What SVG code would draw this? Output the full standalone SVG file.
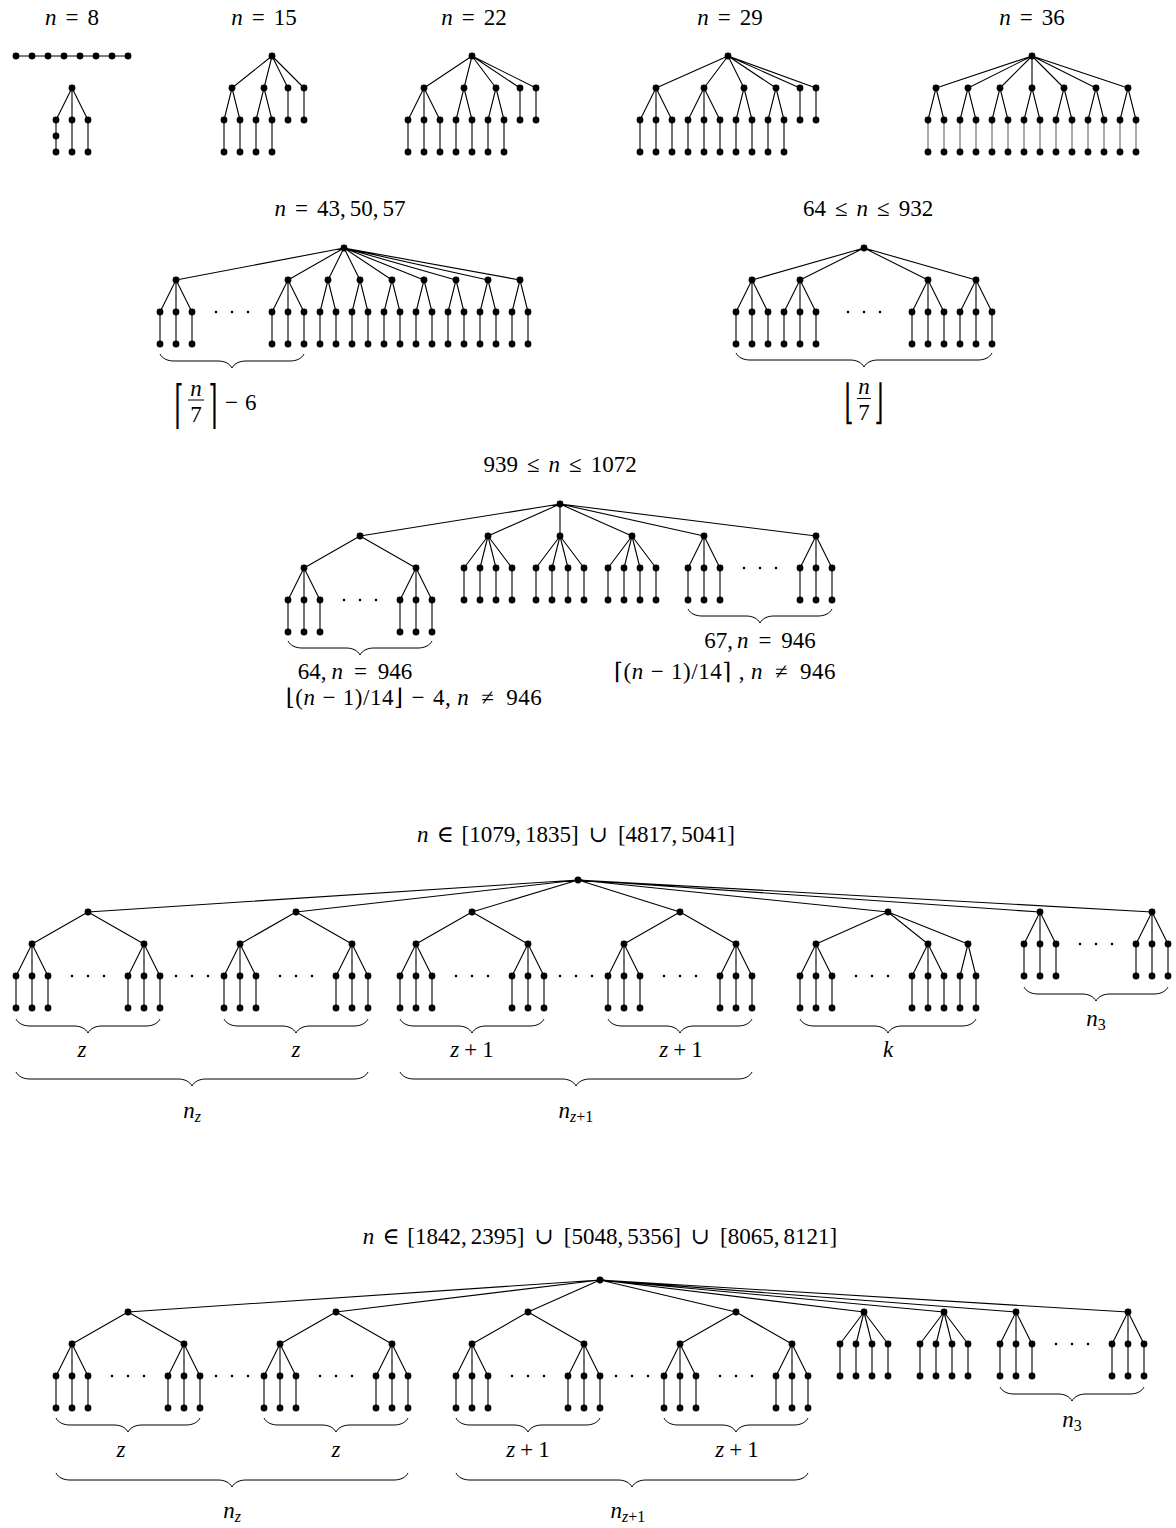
<svg xmlns="http://www.w3.org/2000/svg" width="1176" height="1528" viewBox="0 0 1176 1528">
<style>
text{font-family:"Liberation Serif","DejaVu Serif",serif;font-size:23px;fill:#000}
.m{text-anchor:middle}
.i{font-style:italic}
.s{font-size:16px}
.dj{font-family:"DejaVu Serif",serif}
.ls{letter-spacing:0.5px}
.e{fill:none;stroke:#000;stroke-width:1.1}
.g{fill:none;stroke:#666;stroke-width:1.1}
.b{fill:none;stroke:#000;stroke-width:1}
.n circle{fill:#000}
</style>
<rect width="1176" height="1528" fill="#fff"/>

<g id="connectors">
<path class="e" d="M16,56H128 M72,88L56,120 M72,88V152 M72,88L88,120 M56,120V152 M88,120V152"/>
<path class="e" d="M272,56L232,88 M272,56L264,88 M272,56L288,88 M272,56L304,88 M232,88L224,120 M232,88L240,120 M264,88L256,120 M264,88L272,120 M288,88V120 M304,88V120 M224,120V152 M240,120V152 M256,120V152 M272,120V152"/>
<path class="e" d="M472,56L424,88 M472,56L464,88 M472,56L496,88 M472,56L520,88 M472,56L536,88 M424,88L408,120 M424,88L424,120 M424,88L440,120 M464,88L456,120 M464,88L472,120 M496,88L488,120 M496,88L504,120 M520,88V120 M536,88V120 M408,120V152 M424,120V152 M440,120V152 M456,120V152 M472,120V152 M488,120V152 M504,120V152"/>
<path class="e" d="M728,56L656,88 M728,56L704,88 M728,56L744,88 M728,56L776,88 M728,56L800,88 M728,56L816,88 M656,88L640,120 M656,88L656,120 M656,88L672,120 M704,88L688,120 M704,88L704,120 M704,88L720,120 M744,88L736,120 M744,88L752,120 M776,88L768,120 M776,88L784,120 M800,88V120 M816,88V120 M640,120V152 M656,120V152 M672,120V152 M688,120V152 M704,120V152 M720,120V152 M736,120V152 M752,120V152 M768,120V152 M784,120V152"/>
<path class="e" d="M1032,56L936,88 M1032,56L968,88 M1032,56L1000,88 M1032,56V88 M1032,56L1064,88 M1032,56L1096,88 M1032,56L1128,88 M936,88L928,120 M936,88L944,120 M968,88L960,120 M968,88L976,120 M1000,88L992,120 M1000,88L1008,120 M1032,88L1024,120 M1032,88L1040,120 M1064,88L1056,120 M1064,88L1072,120 M1096,88L1088,120 M1096,88L1104,120 M1128,88L1120,120 M1128,88L1136,120"/>
<path class="g" d="M928,120V152 M944,120V152 M960,120V152 M976,120V152 M992,120V152 M1008,120V152 M1024,120V152 M1040,120V152 M1056,120V152 M1072,120V152 M1088,120V152 M1104,120V152 M1120,120V152 M1136,120V152"/>

<path class="e" d="M344,248L176,280 M344,248L288,280 M344,248L328,280 M344,248L360,280 M344,248L392,280 M344,248L424,280 M344,248L456,280 M344,248L488,280 M344,248L520,280 M176,280L160,312 M176,280V312 M176,280L192,312 M288,280L272,312 M288,280V312 M288,280L304,312 M328,280L320,312 M328,280L336,312 M360,280L352,312 M360,280L368,312 M392,280L384,312 M392,280L400,312 M424,280L416,312 M424,280L432,312 M456,280L448,312 M456,280L464,312 M488,280L480,312 M488,280L496,312 M520,280L512,312 M520,280L528,312 M160,312V344 M176,312V344 M192,312V344 M272,312V344 M288,312V344 M304,312V344 M320,312V344 M336,312V344 M352,312V344 M368,312V344 M384,312V344 M400,312V344 M416,312V344 M432,312V344 M448,312V344 M464,312V344 M480,312V344 M496,312V344 M512,312V344 M528,312V344"/>
<path class="e" d="M864,248L752,280 M864,248L800,280 M864,248L928,280 M864,248L976,280 M752,280L736,312 M752,280V312 M752,280L768,312 M800,280L784,312 M800,280V312 M800,280L816,312 M928,280L912,312 M928,280V312 M928,280L944,312 M976,280L960,312 M976,280V312 M976,280L992,312 M736,312V344 M752,312V344 M768,312V344 M784,312V344 M800,312V344 M816,312V344 M912,312V344 M928,312V344 M944,312V344 M960,312V344 M976,312V344 M992,312V344"/>

<path class="e" d="M560,504L360,536 M560,504L488,536 M560,504V536 M560,504L632,536 M560,504L704,536 M560,504L816,536 M360,536L304,568 M360,536L416,568 M304,568L288,600 M304,568V600 M304,568L320,600 M416,568L400,600 M416,568V600 M416,568L432,600 M288,600V632 M304,600V632 M320,600V632 M400,600V632 M416,600V632 M432,600V632 M488,536L464,568 M488,536L480,568 M488,536L496,568 M488,536L512,568 M560,536L536,568 M560,536L552,568 M560,536L568,568 M560,536L584,568 M632,536L608,568 M632,536L624,568 M632,536L640,568 M632,536L656,568 M704,536L688,568 M704,536V568 M704,536L720,568 M816,536L800,568 M816,536V568 M816,536L832,568 M464,568V600 M480,568V600 M496,568V600 M512,568V600 M536,568V600 M552,568V600 M568,568V600 M584,568V600 M608,568V600 M624,568V600 M640,568V600 M656,568V600 M688,568V600 M704,568V600 M720,568V600 M800,568V600 M816,568V600 M832,568V600"/>

<path class="e" d="M578,880L88,912 M578,880L296,912 M578,880L472,912 M578,880L680,912 M578,880L888,912 M578,880L1040,912 M578,880L1152,912 M88,912L32,944 M88,912L144,944 M296,912L240,944 M296,912L352,944 M472,912L416,944 M472,912L528,944 M680,912L624,944 M680,912L736,944 M888,912L816,944 M888,912L928,944 M888,912L968,944 M1040,912L1024,944 M1040,912V944 M1040,912L1056,944 M1152,912L1136,944 M1152,912V944 M1152,912L1168,944
M32,944L16,976 M32,944V976 M32,944L48,976 M144,944L128,976 M144,944V976 M144,944L160,976 M240,944L224,976 M240,944V976 M240,944L256,976 M352,944L336,976 M352,944V976 M352,944L368,976 M416,944L400,976 M416,944V976 M416,944L432,976 M528,944L512,976 M528,944V976 M528,944L544,976 M624,944L608,976 M624,944V976 M624,944L640,976 M736,944L720,976 M736,944V976 M736,944L752,976 M816,944L800,976 M816,944V976 M816,944L832,976 M928,944L912,976 M928,944V976 M928,944L944,976 M968,944L960,976 M968,944L976,976 M1024,944V976 M1040,944V976 M1056,944V976 M1136,944V976 M1152,944V976 M1168,944V976
M16,976V1008 M32,976V1008 M48,976V1008 M128,976V1008 M144,976V1008 M160,976V1008 M224,976V1008 M240,976V1008 M256,976V1008 M336,976V1008 M352,976V1008 M368,976V1008 M400,976V1008 M416,976V1008 M432,976V1008 M512,976V1008 M528,976V1008 M544,976V1008 M608,976V1008 M624,976V1008 M640,976V1008 M720,976V1008 M736,976V1008 M752,976V1008 M800,976V1008 M816,976V1008 M832,976V1008 M912,976V1008 M928,976V1008 M944,976V1008 M960,976V1008 M976,976V1008"/>

<path class="e" d="M600,1280L128,1312 M600,1280L336,1312 M600,1280L528,1312 M600,1280L736,1312 M600,1280L864,1312 M600,1280L944,1312 M600,1280L1016,1312 M600,1280L1128,1312 M128,1312L72,1344 M128,1312L184,1344 M336,1312L280,1344 M336,1312L392,1344 M528,1312L472,1344 M528,1312L584,1344 M736,1312L680,1344 M736,1312L792,1344 M864,1312L840,1344 M864,1312L856,1344 M864,1312L872,1344 M864,1312L888,1344 M944,1312L920,1344 M944,1312L936,1344 M944,1312L952,1344 M944,1312L968,1344 M1016,1312L1000,1344 M1016,1312V1344 M1016,1312L1032,1344 M1128,1312L1112,1344 M1128,1312V1344 M1128,1312L1144,1344
M72,1344L56,1376 M72,1344V1376 M72,1344L88,1376 M184,1344L168,1376 M184,1344V1376 M184,1344L200,1376 M280,1344L264,1376 M280,1344V1376 M280,1344L296,1376 M392,1344L376,1376 M392,1344V1376 M392,1344L408,1376 M472,1344L456,1376 M472,1344V1376 M472,1344L488,1376 M584,1344L568,1376 M584,1344V1376 M584,1344L600,1376 M680,1344L664,1376 M680,1344V1376 M680,1344L696,1376 M792,1344L776,1376 M792,1344V1376 M792,1344L808,1376 M840,1344V1376 M856,1344V1376 M872,1344V1376 M888,1344V1376 M920,1344V1376 M936,1344V1376 M952,1344V1376 M968,1344V1376 M1000,1344V1376 M1016,1344V1376 M1032,1344V1376 M1112,1344V1376 M1128,1344V1376 M1144,1344V1376
M56,1376V1408 M72,1376V1408 M88,1376V1408 M168,1376V1408 M184,1376V1408 M200,1376V1408 M264,1376V1408 M280,1376V1408 M296,1376V1408 M376,1376V1408 M392,1376V1408 M408,1376V1408 M456,1376V1408 M472,1376V1408 M488,1376V1408 M568,1376V1408 M584,1376V1408 M600,1376V1408 M664,1376V1408 M680,1376V1408 M696,1376V1408 M776,1376V1408 M792,1376V1408 M808,1376V1408"/>
</g>

<g id="braces">
<path class="b" d="M160,354 C162.1,358.2 167,361 174,361 L218,361 C225,361 229.9,363.8 232,368 C234.1,363.8 239,361 246,361 L290,361 C297,361 301.9,358.2 304,354"/>
<path class="b" d="M736,353 C738.1,357.2 743,360 750,360 L850,360 C857,360 861.9,362.8 864,367 C866.1,362.8 871,360 878,360 L978,360 C985,360 989.9,357.2 992,353"/>
<path class="b" d="M288,641 C290.1,645.2 295,648 302,648 L346,648 C353,648 357.9,650.8 360,655 C362.1,650.8 367,648 374,648 L418,648 C425,648 429.9,645.2 432,641"/>
<path class="b" d="M688,609 C690.1,613.2 695,616 702,616 L746,616 C753,616 757.9,618.8 760,623 C762.1,618.8 767,616 774,616 L818,616 C825,616 829.9,613.2 832,609"/>
<path class="b" d="M16,1019 C18.1,1023.2 23,1026 30,1026 L74,1026 C81,1026 85.9,1028.8 88,1033 C90.1,1028.8 95,1026 102,1026 L146,1026 C153,1026 157.9,1023.2 160,1019"/>
<path class="b" d="M224,1019 C226.1,1023.2 231,1026 238,1026 L282,1026 C289,1026 293.9,1028.8 296,1033 C298.1,1028.8 303,1026 310,1026 L354,1026 C361,1026 365.9,1023.2 368,1019"/>
<path class="b" d="M400,1019 C402.1,1023.2 407,1026 414,1026 L458,1026 C465,1026 469.9,1028.8 472,1033 C474.1,1028.8 479,1026 486,1026 L530,1026 C537,1026 541.9,1023.2 544,1019"/>
<path class="b" d="M608,1019 C610.1,1023.2 615,1026 622,1026 L666,1026 C673,1026 677.9,1028.8 680,1033 C682.1,1028.8 687,1026 694,1026 L738,1026 C745,1026 749.9,1023.2 752,1019"/>
<path class="b" d="M800,1019 C802.1,1023.2 807,1026 814,1026 L874,1026 C881,1026 885.9,1028.8 888,1033 C890.1,1028.8 895,1026 902,1026 L962,1026 C969,1026 973.9,1023.2 976,1019"/>
<path class="b" d="M1024,987 C1026.1,991.2 1031,994 1038,994 L1082,994 C1089,994 1093.9,996.8 1096,1001 C1098.1,996.8 1103,994 1110,994 L1154,994 C1161,994 1165.9,991.2 1168,987"/>
<path class="b" d="M16,1072 C18.1,1076.2 23,1079 30,1079 L178,1079 C185,1079 189.9,1081.8 192,1086 C194.1,1081.8 199,1079 206,1079 L354,1079 C361,1079 365.9,1076.2 368,1072"/>
<path class="b" d="M400,1072 C402.1,1076.2 407,1079 414,1079 L562,1079 C569,1079 573.9,1081.8 576,1086 C578.1,1081.8 583,1079 590,1079 L738,1079 C745,1079 749.9,1076.2 752,1072"/>
<path class="b" d="M56,1418 C58.1,1422.2 63,1425 70,1425 L114,1425 C121,1425 125.9,1427.8 128,1432 C130.1,1427.8 135,1425 142,1425 L186,1425 C193,1425 197.9,1422.2 200,1418"/>
<path class="b" d="M264,1418 C266.1,1422.2 271,1425 278,1425 L322,1425 C329,1425 333.9,1427.8 336,1432 C338.1,1427.8 343,1425 350,1425 L394,1425 C401,1425 405.9,1422.2 408,1418"/>
<path class="b" d="M456,1418 C458.1,1422.2 463,1425 470,1425 L514,1425 C521,1425 525.9,1427.8 528,1432 C530.1,1427.8 535,1425 542,1425 L586,1425 C593,1425 597.9,1422.2 600,1418"/>
<path class="b" d="M664,1418 C666.1,1422.2 671,1425 678,1425 L722,1425 C729,1425 733.9,1427.8 736,1432 C738.1,1427.8 743,1425 750,1425 L794,1425 C801,1425 805.9,1422.2 808,1418"/>
<path class="b" d="M1000,1387 C1002.1,1391.2 1007,1394 1014,1394 L1058,1394 C1065,1394 1069.9,1396.8 1072,1401 C1074.1,1396.8 1079,1394 1086,1394 L1130,1394 C1137,1394 1141.9,1391.2 1144,1387"/>
<path class="b" d="M56,1473 C58.1,1477.2 63,1480 70,1480 L218,1480 C225,1480 229.9,1482.8 232,1487 C234.1,1482.8 239,1480 246,1480 L394,1480 C401,1480 405.9,1477.2 408,1473"/>
<path class="b" d="M456,1473 C458.1,1477.2 463,1480 470,1480 L618,1480 C625,1480 629.9,1482.8 632,1487 C634.1,1482.8 639,1480 646,1480 L794,1480 C801,1480 805.9,1477.2 808,1473"/>
<line class="b" x1="188" y1="400" x2="204" y2="400"/>
<line class="b" x1="857" y1="398.5" x2="871" y2="398.5"/>
</g>

<g id="tree-n8" class="n">
<circle cx="16" cy="56" r="3.4"/><circle cx="32" cy="56" r="3.4"/><circle cx="48" cy="56" r="3.4"/><circle cx="64" cy="56" r="3.4"/><circle cx="80" cy="56" r="3.4"/><circle cx="96" cy="56" r="3.4"/><circle cx="112" cy="56" r="3.4"/><circle cx="128" cy="56" r="3.4"/>
<circle cx="72" cy="88" r="3.4"/><circle cx="56" cy="120" r="3.4"/><circle cx="72" cy="120" r="3.4"/><circle cx="88" cy="120" r="3.4"/><circle cx="56" cy="136" r="3.4"/><circle cx="56" cy="152" r="3.4"/><circle cx="72" cy="152" r="3.4"/><circle cx="88" cy="152" r="3.4"/>
</g>
<g id="tree-n15" class="n">
<circle cx="272" cy="56" r="3.4"/><circle cx="232" cy="88" r="3.4"/><circle cx="264" cy="88" r="3.4"/><circle cx="288" cy="88" r="3.4"/><circle cx="304" cy="88" r="3.4"/>
<circle cx="224" cy="120" r="3.4"/><circle cx="240" cy="120" r="3.4"/><circle cx="256" cy="120" r="3.4"/><circle cx="272" cy="120" r="3.4"/><circle cx="288" cy="120" r="3.4"/><circle cx="304" cy="120" r="3.4"/>
<circle cx="224" cy="152" r="3.4"/><circle cx="240" cy="152" r="3.4"/><circle cx="256" cy="152" r="3.4"/><circle cx="272" cy="152" r="3.4"/>
</g>
<g id="tree-n22" class="n">
<circle cx="472" cy="56" r="3.4"/><circle cx="424" cy="88" r="3.4"/><circle cx="464" cy="88" r="3.4"/><circle cx="496" cy="88" r="3.4"/><circle cx="520" cy="88" r="3.4"/><circle cx="536" cy="88" r="3.4"/>
<circle cx="408" cy="120" r="3.4"/><circle cx="424" cy="120" r="3.4"/><circle cx="440" cy="120" r="3.4"/><circle cx="456" cy="120" r="3.4"/><circle cx="472" cy="120" r="3.4"/><circle cx="488" cy="120" r="3.4"/><circle cx="504" cy="120" r="3.4"/><circle cx="520" cy="120" r="3.4"/><circle cx="536" cy="120" r="3.4"/>
<circle cx="408" cy="152" r="3.4"/><circle cx="424" cy="152" r="3.4"/><circle cx="440" cy="152" r="3.4"/><circle cx="456" cy="152" r="3.4"/><circle cx="472" cy="152" r="3.4"/><circle cx="488" cy="152" r="3.4"/><circle cx="504" cy="152" r="3.4"/>
</g>
<g id="tree-n29" class="n">
<circle cx="728" cy="56" r="3.4"/><circle cx="656" cy="88" r="3.4"/><circle cx="704" cy="88" r="3.4"/><circle cx="744" cy="88" r="3.4"/><circle cx="776" cy="88" r="3.4"/><circle cx="800" cy="88" r="3.4"/><circle cx="816" cy="88" r="3.4"/>
<circle cx="640" cy="120" r="3.4"/><circle cx="656" cy="120" r="3.4"/><circle cx="672" cy="120" r="3.4"/><circle cx="688" cy="120" r="3.4"/><circle cx="704" cy="120" r="3.4"/><circle cx="720" cy="120" r="3.4"/><circle cx="736" cy="120" r="3.4"/><circle cx="752" cy="120" r="3.4"/><circle cx="768" cy="120" r="3.4"/><circle cx="784" cy="120" r="3.4"/><circle cx="800" cy="120" r="3.4"/><circle cx="816" cy="120" r="3.4"/>
<circle cx="640" cy="152" r="3.4"/><circle cx="656" cy="152" r="3.4"/><circle cx="672" cy="152" r="3.4"/><circle cx="688" cy="152" r="3.4"/><circle cx="704" cy="152" r="3.4"/><circle cx="720" cy="152" r="3.4"/><circle cx="736" cy="152" r="3.4"/><circle cx="752" cy="152" r="3.4"/><circle cx="768" cy="152" r="3.4"/><circle cx="784" cy="152" r="3.4"/>
</g>
<g id="tree-n36" class="n">
<circle cx="1032" cy="56" r="3.4"/><circle cx="936" cy="88" r="3.4"/><circle cx="968" cy="88" r="3.4"/><circle cx="1000" cy="88" r="3.4"/><circle cx="1032" cy="88" r="3.4"/><circle cx="1064" cy="88" r="3.4"/><circle cx="1096" cy="88" r="3.4"/><circle cx="1128" cy="88" r="3.4"/>
<circle cx="928" cy="120" r="3.4"/><circle cx="944" cy="120" r="3.4"/><circle cx="960" cy="120" r="3.4"/><circle cx="976" cy="120" r="3.4"/><circle cx="992" cy="120" r="3.4"/><circle cx="1008" cy="120" r="3.4"/><circle cx="1024" cy="120" r="3.4"/><circle cx="1040" cy="120" r="3.4"/><circle cx="1056" cy="120" r="3.4"/><circle cx="1072" cy="120" r="3.4"/><circle cx="1088" cy="120" r="3.4"/><circle cx="1104" cy="120" r="3.4"/><circle cx="1120" cy="120" r="3.4"/><circle cx="1136" cy="120" r="3.4"/>
<circle cx="928" cy="152" r="3.4"/><circle cx="944" cy="152" r="3.4"/><circle cx="960" cy="152" r="3.4"/><circle cx="976" cy="152" r="3.4"/><circle cx="992" cy="152" r="3.4"/><circle cx="1008" cy="152" r="3.4"/><circle cx="1024" cy="152" r="3.4"/><circle cx="1040" cy="152" r="3.4"/><circle cx="1056" cy="152" r="3.4"/><circle cx="1072" cy="152" r="3.4"/><circle cx="1088" cy="152" r="3.4"/><circle cx="1104" cy="152" r="3.4"/><circle cx="1120" cy="152" r="3.4"/><circle cx="1136" cy="152" r="3.4"/>
</g>

<g id="tree-n43" class="n">
<circle cx="344" cy="248" r="3.4"/>
<circle cx="176" cy="280" r="3.4"/><circle cx="288" cy="280" r="3.4"/><circle cx="328" cy="280" r="3.4"/><circle cx="360" cy="280" r="3.4"/><circle cx="392" cy="280" r="3.4"/><circle cx="424" cy="280" r="3.4"/><circle cx="456" cy="280" r="3.4"/><circle cx="488" cy="280" r="3.4"/><circle cx="520" cy="280" r="3.4"/>
<circle cx="160" cy="312" r="3.4"/><circle cx="176" cy="312" r="3.4"/><circle cx="192" cy="312" r="3.4"/><circle cx="272" cy="312" r="3.4"/><circle cx="288" cy="312" r="3.4"/><circle cx="304" cy="312" r="3.4"/><circle cx="320" cy="312" r="3.4"/><circle cx="336" cy="312" r="3.4"/><circle cx="352" cy="312" r="3.4"/><circle cx="368" cy="312" r="3.4"/><circle cx="384" cy="312" r="3.4"/><circle cx="400" cy="312" r="3.4"/><circle cx="416" cy="312" r="3.4"/><circle cx="432" cy="312" r="3.4"/><circle cx="448" cy="312" r="3.4"/><circle cx="464" cy="312" r="3.4"/><circle cx="480" cy="312" r="3.4"/><circle cx="496" cy="312" r="3.4"/><circle cx="512" cy="312" r="3.4"/><circle cx="528" cy="312" r="3.4"/>
<circle cx="160" cy="344" r="3.4"/><circle cx="176" cy="344" r="3.4"/><circle cx="192" cy="344" r="3.4"/><circle cx="272" cy="344" r="3.4"/><circle cx="288" cy="344" r="3.4"/><circle cx="304" cy="344" r="3.4"/><circle cx="320" cy="344" r="3.4"/><circle cx="336" cy="344" r="3.4"/><circle cx="352" cy="344" r="3.4"/><circle cx="368" cy="344" r="3.4"/><circle cx="384" cy="344" r="3.4"/><circle cx="400" cy="344" r="3.4"/><circle cx="416" cy="344" r="3.4"/><circle cx="432" cy="344" r="3.4"/><circle cx="448" cy="344" r="3.4"/><circle cx="464" cy="344" r="3.4"/><circle cx="480" cy="344" r="3.4"/><circle cx="496" cy="344" r="3.4"/><circle cx="512" cy="344" r="3.4"/><circle cx="528" cy="344" r="3.4"/>
<circle cx="216" cy="312" r="1.3"/><circle cx="232" cy="312" r="1.3"/><circle cx="248" cy="312" r="1.3"/>
</g>
<g id="tree-n64" class="n">
<circle cx="864" cy="248" r="3.4"/>
<circle cx="752" cy="280" r="3.4"/><circle cx="800" cy="280" r="3.4"/><circle cx="928" cy="280" r="3.4"/><circle cx="976" cy="280" r="3.4"/>
<circle cx="736" cy="312" r="3.4"/><circle cx="752" cy="312" r="3.4"/><circle cx="768" cy="312" r="3.4"/><circle cx="784" cy="312" r="3.4"/><circle cx="800" cy="312" r="3.4"/><circle cx="816" cy="312" r="3.4"/><circle cx="912" cy="312" r="3.4"/><circle cx="928" cy="312" r="3.4"/><circle cx="944" cy="312" r="3.4"/><circle cx="960" cy="312" r="3.4"/><circle cx="976" cy="312" r="3.4"/><circle cx="992" cy="312" r="3.4"/>
<circle cx="736" cy="344" r="3.4"/><circle cx="752" cy="344" r="3.4"/><circle cx="768" cy="344" r="3.4"/><circle cx="784" cy="344" r="3.4"/><circle cx="800" cy="344" r="3.4"/><circle cx="816" cy="344" r="3.4"/><circle cx="912" cy="344" r="3.4"/><circle cx="928" cy="344" r="3.4"/><circle cx="944" cy="344" r="3.4"/><circle cx="960" cy="344" r="3.4"/><circle cx="976" cy="344" r="3.4"/><circle cx="992" cy="344" r="3.4"/>
<circle cx="848" cy="312" r="1.3"/><circle cx="864" cy="312" r="1.3"/><circle cx="880" cy="312" r="1.3"/>
</g>

<g id="tree-n939" class="n">
<circle cx="560" cy="504" r="3.4"/>
<circle cx="360" cy="536" r="3.4"/><circle cx="488" cy="536" r="3.4"/><circle cx="560" cy="536" r="3.4"/><circle cx="632" cy="536" r="3.4"/><circle cx="704" cy="536" r="3.4"/><circle cx="816" cy="536" r="3.4"/>
<circle cx="304" cy="568" r="3.4"/><circle cx="416" cy="568" r="3.4"/><circle cx="464" cy="568" r="3.4"/><circle cx="480" cy="568" r="3.4"/><circle cx="496" cy="568" r="3.4"/><circle cx="512" cy="568" r="3.4"/><circle cx="536" cy="568" r="3.4"/><circle cx="552" cy="568" r="3.4"/><circle cx="568" cy="568" r="3.4"/><circle cx="584" cy="568" r="3.4"/><circle cx="608" cy="568" r="3.4"/><circle cx="624" cy="568" r="3.4"/><circle cx="640" cy="568" r="3.4"/><circle cx="656" cy="568" r="3.4"/><circle cx="688" cy="568" r="3.4"/><circle cx="704" cy="568" r="3.4"/><circle cx="720" cy="568" r="3.4"/><circle cx="800" cy="568" r="3.4"/><circle cx="816" cy="568" r="3.4"/><circle cx="832" cy="568" r="3.4"/>
<circle cx="288" cy="600" r="3.4"/><circle cx="304" cy="600" r="3.4"/><circle cx="320" cy="600" r="3.4"/><circle cx="400" cy="600" r="3.4"/><circle cx="416" cy="600" r="3.4"/><circle cx="432" cy="600" r="3.4"/><circle cx="464" cy="600" r="3.4"/><circle cx="480" cy="600" r="3.4"/><circle cx="496" cy="600" r="3.4"/><circle cx="512" cy="600" r="3.4"/><circle cx="536" cy="600" r="3.4"/><circle cx="552" cy="600" r="3.4"/><circle cx="568" cy="600" r="3.4"/><circle cx="584" cy="600" r="3.4"/><circle cx="608" cy="600" r="3.4"/><circle cx="624" cy="600" r="3.4"/><circle cx="640" cy="600" r="3.4"/><circle cx="656" cy="600" r="3.4"/><circle cx="688" cy="600" r="3.4"/><circle cx="704" cy="600" r="3.4"/><circle cx="720" cy="600" r="3.4"/><circle cx="800" cy="600" r="3.4"/><circle cx="816" cy="600" r="3.4"/><circle cx="832" cy="600" r="3.4"/>
<circle cx="288" cy="632" r="3.4"/><circle cx="304" cy="632" r="3.4"/><circle cx="320" cy="632" r="3.4"/><circle cx="400" cy="632" r="3.4"/><circle cx="416" cy="632" r="3.4"/><circle cx="432" cy="632" r="3.4"/>
<circle cx="344" cy="600" r="1.3"/><circle cx="360" cy="600" r="1.3"/><circle cx="376" cy="600" r="1.3"/>
<circle cx="744" cy="568" r="1.3"/><circle cx="760" cy="568" r="1.3"/><circle cx="776" cy="568" r="1.3"/>
</g>

<g id="tree-n1079" class="n">
<circle cx="578" cy="880" r="3.4"/>
<circle cx="88" cy="912" r="3.4"/><circle cx="296" cy="912" r="3.4"/><circle cx="472" cy="912" r="3.4"/><circle cx="680" cy="912" r="3.4"/><circle cx="888" cy="912" r="3.4"/><circle cx="1040" cy="912" r="3.4"/><circle cx="1152" cy="912" r="3.4"/>
<circle cx="32" cy="944" r="3.4"/><circle cx="144" cy="944" r="3.4"/><circle cx="240" cy="944" r="3.4"/><circle cx="352" cy="944" r="3.4"/><circle cx="416" cy="944" r="3.4"/><circle cx="528" cy="944" r="3.4"/><circle cx="624" cy="944" r="3.4"/><circle cx="736" cy="944" r="3.4"/><circle cx="816" cy="944" r="3.4"/><circle cx="928" cy="944" r="3.4"/><circle cx="968" cy="944" r="3.4"/><circle cx="1024" cy="944" r="3.4"/><circle cx="1040" cy="944" r="3.4"/><circle cx="1056" cy="944" r="3.4"/><circle cx="1136" cy="944" r="3.4"/><circle cx="1152" cy="944" r="3.4"/><circle cx="1168" cy="944" r="3.4"/>
<circle cx="16" cy="976" r="3.4"/><circle cx="32" cy="976" r="3.4"/><circle cx="48" cy="976" r="3.4"/><circle cx="128" cy="976" r="3.4"/><circle cx="144" cy="976" r="3.4"/><circle cx="160" cy="976" r="3.4"/><circle cx="224" cy="976" r="3.4"/><circle cx="240" cy="976" r="3.4"/><circle cx="256" cy="976" r="3.4"/><circle cx="336" cy="976" r="3.4"/><circle cx="352" cy="976" r="3.4"/><circle cx="368" cy="976" r="3.4"/><circle cx="400" cy="976" r="3.4"/><circle cx="416" cy="976" r="3.4"/><circle cx="432" cy="976" r="3.4"/><circle cx="512" cy="976" r="3.4"/><circle cx="528" cy="976" r="3.4"/><circle cx="544" cy="976" r="3.4"/><circle cx="608" cy="976" r="3.4"/><circle cx="624" cy="976" r="3.4"/><circle cx="640" cy="976" r="3.4"/><circle cx="720" cy="976" r="3.4"/><circle cx="736" cy="976" r="3.4"/><circle cx="752" cy="976" r="3.4"/><circle cx="800" cy="976" r="3.4"/><circle cx="816" cy="976" r="3.4"/><circle cx="832" cy="976" r="3.4"/><circle cx="912" cy="976" r="3.4"/><circle cx="928" cy="976" r="3.4"/><circle cx="944" cy="976" r="3.4"/><circle cx="960" cy="976" r="3.4"/><circle cx="976" cy="976" r="3.4"/><circle cx="1024" cy="976" r="3.4"/><circle cx="1040" cy="976" r="3.4"/><circle cx="1056" cy="976" r="3.4"/><circle cx="1136" cy="976" r="3.4"/><circle cx="1152" cy="976" r="3.4"/><circle cx="1168" cy="976" r="3.4"/>
<circle cx="16" cy="1008" r="3.4"/><circle cx="32" cy="1008" r="3.4"/><circle cx="48" cy="1008" r="3.4"/><circle cx="128" cy="1008" r="3.4"/><circle cx="144" cy="1008" r="3.4"/><circle cx="160" cy="1008" r="3.4"/><circle cx="224" cy="1008" r="3.4"/><circle cx="240" cy="1008" r="3.4"/><circle cx="256" cy="1008" r="3.4"/><circle cx="336" cy="1008" r="3.4"/><circle cx="352" cy="1008" r="3.4"/><circle cx="368" cy="1008" r="3.4"/><circle cx="400" cy="1008" r="3.4"/><circle cx="416" cy="1008" r="3.4"/><circle cx="432" cy="1008" r="3.4"/><circle cx="512" cy="1008" r="3.4"/><circle cx="528" cy="1008" r="3.4"/><circle cx="544" cy="1008" r="3.4"/><circle cx="608" cy="1008" r="3.4"/><circle cx="624" cy="1008" r="3.4"/><circle cx="640" cy="1008" r="3.4"/><circle cx="720" cy="1008" r="3.4"/><circle cx="736" cy="1008" r="3.4"/><circle cx="752" cy="1008" r="3.4"/><circle cx="800" cy="1008" r="3.4"/><circle cx="816" cy="1008" r="3.4"/><circle cx="832" cy="1008" r="3.4"/><circle cx="912" cy="1008" r="3.4"/><circle cx="928" cy="1008" r="3.4"/><circle cx="944" cy="1008" r="3.4"/><circle cx="960" cy="1008" r="3.4"/><circle cx="976" cy="1008" r="3.4"/>
<circle cx="72" cy="976" r="1.3"/><circle cx="88" cy="976" r="1.3"/><circle cx="104" cy="976" r="1.3"/><circle cx="176" cy="976" r="1.3"/><circle cx="192" cy="976" r="1.3"/><circle cx="208" cy="976" r="1.3"/><circle cx="280" cy="976" r="1.3"/><circle cx="296" cy="976" r="1.3"/><circle cx="312" cy="976" r="1.3"/><circle cx="456" cy="976" r="1.3"/><circle cx="472" cy="976" r="1.3"/><circle cx="488" cy="976" r="1.3"/><circle cx="560" cy="976" r="1.3"/><circle cx="576" cy="976" r="1.3"/><circle cx="592" cy="976" r="1.3"/><circle cx="664" cy="976" r="1.3"/><circle cx="680" cy="976" r="1.3"/><circle cx="696" cy="976" r="1.3"/><circle cx="856" cy="976" r="1.3"/><circle cx="872" cy="976" r="1.3"/><circle cx="888" cy="976" r="1.3"/>
<circle cx="1080" cy="944" r="1.3"/><circle cx="1096" cy="944" r="1.3"/><circle cx="1112" cy="944" r="1.3"/>
</g>

<g id="tree-n1842" class="n">
<circle cx="600" cy="1280" r="3.4"/>
<circle cx="128" cy="1312" r="3.4"/><circle cx="336" cy="1312" r="3.4"/><circle cx="528" cy="1312" r="3.4"/><circle cx="736" cy="1312" r="3.4"/><circle cx="864" cy="1312" r="3.4"/><circle cx="944" cy="1312" r="3.4"/><circle cx="1016" cy="1312" r="3.4"/><circle cx="1128" cy="1312" r="3.4"/>
<circle cx="72" cy="1344" r="3.4"/><circle cx="184" cy="1344" r="3.4"/><circle cx="280" cy="1344" r="3.4"/><circle cx="392" cy="1344" r="3.4"/><circle cx="472" cy="1344" r="3.4"/><circle cx="584" cy="1344" r="3.4"/><circle cx="680" cy="1344" r="3.4"/><circle cx="792" cy="1344" r="3.4"/><circle cx="840" cy="1344" r="3.4"/><circle cx="856" cy="1344" r="3.4"/><circle cx="872" cy="1344" r="3.4"/><circle cx="888" cy="1344" r="3.4"/><circle cx="920" cy="1344" r="3.4"/><circle cx="936" cy="1344" r="3.4"/><circle cx="952" cy="1344" r="3.4"/><circle cx="968" cy="1344" r="3.4"/><circle cx="1000" cy="1344" r="3.4"/><circle cx="1016" cy="1344" r="3.4"/><circle cx="1032" cy="1344" r="3.4"/><circle cx="1112" cy="1344" r="3.4"/><circle cx="1128" cy="1344" r="3.4"/><circle cx="1144" cy="1344" r="3.4"/>
<circle cx="56" cy="1376" r="3.4"/><circle cx="72" cy="1376" r="3.4"/><circle cx="88" cy="1376" r="3.4"/><circle cx="168" cy="1376" r="3.4"/><circle cx="184" cy="1376" r="3.4"/><circle cx="200" cy="1376" r="3.4"/><circle cx="264" cy="1376" r="3.4"/><circle cx="280" cy="1376" r="3.4"/><circle cx="296" cy="1376" r="3.4"/><circle cx="376" cy="1376" r="3.4"/><circle cx="392" cy="1376" r="3.4"/><circle cx="408" cy="1376" r="3.4"/><circle cx="456" cy="1376" r="3.4"/><circle cx="472" cy="1376" r="3.4"/><circle cx="488" cy="1376" r="3.4"/><circle cx="568" cy="1376" r="3.4"/><circle cx="584" cy="1376" r="3.4"/><circle cx="600" cy="1376" r="3.4"/><circle cx="664" cy="1376" r="3.4"/><circle cx="680" cy="1376" r="3.4"/><circle cx="696" cy="1376" r="3.4"/><circle cx="776" cy="1376" r="3.4"/><circle cx="792" cy="1376" r="3.4"/><circle cx="808" cy="1376" r="3.4"/><circle cx="840" cy="1376" r="3.4"/><circle cx="856" cy="1376" r="3.4"/><circle cx="872" cy="1376" r="3.4"/><circle cx="888" cy="1376" r="3.4"/><circle cx="920" cy="1376" r="3.4"/><circle cx="936" cy="1376" r="3.4"/><circle cx="952" cy="1376" r="3.4"/><circle cx="968" cy="1376" r="3.4"/><circle cx="1000" cy="1376" r="3.4"/><circle cx="1016" cy="1376" r="3.4"/><circle cx="1032" cy="1376" r="3.4"/><circle cx="1112" cy="1376" r="3.4"/><circle cx="1128" cy="1376" r="3.4"/><circle cx="1144" cy="1376" r="3.4"/>
<circle cx="56" cy="1408" r="3.4"/><circle cx="72" cy="1408" r="3.4"/><circle cx="88" cy="1408" r="3.4"/><circle cx="168" cy="1408" r="3.4"/><circle cx="184" cy="1408" r="3.4"/><circle cx="200" cy="1408" r="3.4"/><circle cx="264" cy="1408" r="3.4"/><circle cx="280" cy="1408" r="3.4"/><circle cx="296" cy="1408" r="3.4"/><circle cx="376" cy="1408" r="3.4"/><circle cx="392" cy="1408" r="3.4"/><circle cx="408" cy="1408" r="3.4"/><circle cx="456" cy="1408" r="3.4"/><circle cx="472" cy="1408" r="3.4"/><circle cx="488" cy="1408" r="3.4"/><circle cx="568" cy="1408" r="3.4"/><circle cx="584" cy="1408" r="3.4"/><circle cx="600" cy="1408" r="3.4"/><circle cx="664" cy="1408" r="3.4"/><circle cx="680" cy="1408" r="3.4"/><circle cx="696" cy="1408" r="3.4"/><circle cx="776" cy="1408" r="3.4"/><circle cx="792" cy="1408" r="3.4"/><circle cx="808" cy="1408" r="3.4"/>
<circle cx="112" cy="1376" r="1.3"/><circle cx="128" cy="1376" r="1.3"/><circle cx="144" cy="1376" r="1.3"/><circle cx="216" cy="1376" r="1.3"/><circle cx="232" cy="1376" r="1.3"/><circle cx="248" cy="1376" r="1.3"/><circle cx="320" cy="1376" r="1.3"/><circle cx="336" cy="1376" r="1.3"/><circle cx="352" cy="1376" r="1.3"/><circle cx="512" cy="1376" r="1.3"/><circle cx="528" cy="1376" r="1.3"/><circle cx="544" cy="1376" r="1.3"/><circle cx="616" cy="1376" r="1.3"/><circle cx="632" cy="1376" r="1.3"/><circle cx="648" cy="1376" r="1.3"/><circle cx="720" cy="1376" r="1.3"/><circle cx="736" cy="1376" r="1.3"/><circle cx="752" cy="1376" r="1.3"/>
<circle cx="1056" cy="1344" r="1.3"/><circle cx="1072" cy="1344" r="1.3"/><circle cx="1088" cy="1344" r="1.3"/>
</g>

<g id="labels">
<text class="m" x="72" y="25"><tspan class="i">n</tspan><tspan dx="9">=</tspan><tspan dx="9">8</tspan></text>
<text class="m" x="264" y="25"><tspan class="i">n</tspan><tspan dx="9">=</tspan><tspan dx="9">15</tspan></text>
<text class="m" x="474" y="25"><tspan class="i">n</tspan><tspan dx="9">=</tspan><tspan dx="9">22</tspan></text>
<text class="m" x="730" y="25"><tspan class="i">n</tspan><tspan dx="9">=</tspan><tspan dx="9">29</tspan></text>
<text class="m" x="1032" y="25"><tspan class="i">n</tspan><tspan dx="9">=</tspan><tspan dx="9">36</tspan></text>
<text class="m" x="340" y="216"><tspan class="i">n</tspan><tspan dx="9">=</tspan><tspan dx="9">43,</tspan><tspan dx="4">50,</tspan><tspan dx="4">57</tspan></text>
<text class="m" x="868" y="216">64<tspan dx="9">≤</tspan><tspan dx="9" class="i">n</tspan><tspan dx="9">≤</tspan><tspan dx="9">932</tspan></text>
<text class="m" x="560" y="472">939<tspan dx="9">≤</tspan><tspan dx="9" class="i">n</tspan><tspan dx="9">≤</tspan><tspan dx="9">1072</tspan></text>
<text class="m" x="576" y="842"><tspan class="i">n</tspan><tspan dx="8">∈</tspan><tspan dx="8">[1079,</tspan><tspan dx="4">1835]</tspan><tspan dx="10">∪</tspan><tspan dx="10">[4817,</tspan><tspan dx="4">5041]</tspan></text>
<text class="m" x="600" y="1244"><tspan class="i">n</tspan><tspan dx="8">∈</tspan><tspan dx="8">[1842,</tspan><tspan dx="4">2395]</tspan><tspan dx="10">∪</tspan><tspan dx="10">[5048,</tspan><tspan dx="4">5356]</tspan><tspan dx="10">∪</tspan><tspan dx="10">[8065,</tspan><tspan dx="4">8121]</tspan></text>

<text class="m dj" transform="translate(179,422) scale(1,2.25)">⌈</text>
<text class="m i" x="196" y="396">n</text>
<text class="m" x="196" y="422">7</text>
<text class="m dj" transform="translate(213,422) scale(1,2.25)">⌉</text>
<text x="225" y="410">−<tspan dx="7">6</tspan></text>

<text class="m dj" transform="translate(849,418) scale(1,2.05)">⌊</text>
<text class="m i" x="864" y="394">n</text>
<text class="m" x="864" y="420">7</text>
<text class="m dj" transform="translate(879,418) scale(1,2.05)">⌋</text>

<text class="m" x="760" y="648">67,<tspan dx="4" class="i">n</tspan><tspan dx="10">=</tspan><tspan dx="10">946</tspan></text>
<text class="m ls" x="725" y="679"><tspan class="dj">⌈</tspan>(<tspan class="i">n</tspan><tspan dx="7">−</tspan><tspan dx="7">1)/14</tspan><tspan class="dj">⌉</tspan><tspan dx="7">,</tspan><tspan dx="6" class="i">n</tspan><tspan dx="12">≠</tspan><tspan dx="12">946</tspan></text>
<text class="m" x="355" y="679">64,<tspan dx="5" class="i">n</tspan><tspan dx="11">=</tspan><tspan dx="11">946</tspan></text>
<text class="m ls" x="414" y="705"><tspan class="dj">⌊</tspan>(<tspan class="i">n</tspan><tspan dx="7">−</tspan><tspan dx="7">1)/14</tspan><tspan class="dj">⌋</tspan><tspan dx="8">−</tspan><tspan dx="8">4,</tspan><tspan dx="6" class="i">n</tspan><tspan dx="12">≠</tspan><tspan dx="12">946</tspan></text>

<text class="m i" x="82" y="1057">z</text>
<text class="m i" x="296" y="1057">z</text>
<text class="m" x="472" y="1057"><tspan class="i">z</tspan><tspan dx="5">+</tspan><tspan dx="5">1</tspan></text>
<text class="m" x="681" y="1057"><tspan class="i">z</tspan><tspan dx="5">+</tspan><tspan dx="5">1</tspan></text>
<text class="m i" x="888" y="1057">k</text>
<text class="m" x="1096" y="1026"><tspan class="i">n</tspan><tspan class="s" dy="4">3</tspan></text>
<text class="m" x="192" y="1118"><tspan class="i">n</tspan><tspan class="s i" dy="4">z</tspan></text>
<text class="m" x="576" y="1118"><tspan class="i">n</tspan><tspan class="s" dy="4"><tspan class="i">z</tspan>+1</tspan></text>

<text class="m i" x="121" y="1457">z</text>
<text class="m i" x="336" y="1457">z</text>
<text class="m" x="528" y="1457"><tspan class="i">z</tspan><tspan dx="5">+</tspan><tspan dx="5">1</tspan></text>
<text class="m" x="737" y="1457"><tspan class="i">z</tspan><tspan dx="5">+</tspan><tspan dx="5">1</tspan></text>
<text class="m" x="1072" y="1427"><tspan class="i">n</tspan><tspan class="s" dy="4">3</tspan></text>
<text class="m" x="232" y="1518"><tspan class="i">n</tspan><tspan class="s i" dy="4">z</tspan></text>
<text class="m" x="628" y="1518"><tspan class="i">n</tspan><tspan class="s" dy="4"><tspan class="i">z</tspan>+1</tspan></text>
</g>
</svg>
